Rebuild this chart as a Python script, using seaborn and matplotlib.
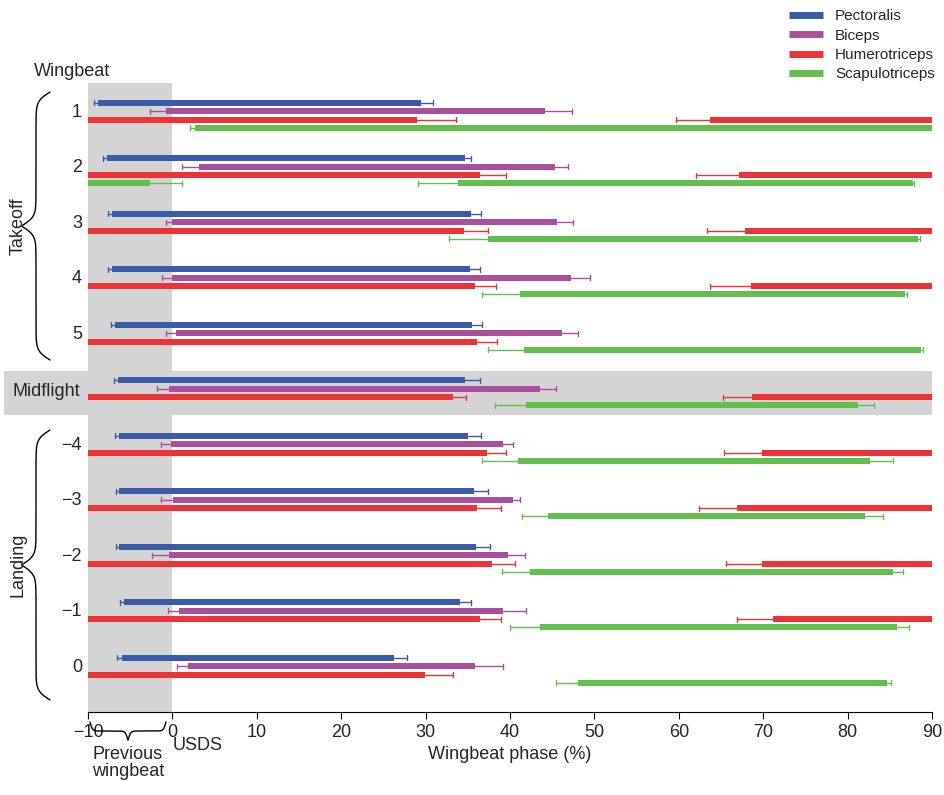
import numpy as np
import matplotlib
matplotlib.use("Agg")
import matplotlib.pyplot as plt
from matplotlib.patches import Rectangle
from matplotlib.lines import Line2D
import seaborn as sns

sns.set_style("white")
plt.rcParams['font.family'] = ['Liberation Sans', 'DejaVu Sans']

rows = ["1", "2", "3", "4", "5", "Midflight", "\u22124", "\u22123", "\u22122", "\u22121", "0"]
muscles = ["Pectoralis", "Biceps", "Humerotriceps", "Scapulotriceps"]
colors = ["#3a5ba8", "#a94f9e", "#ee3338", "#62bf4e"]

# main active segment per muscle: start, start error, end, end error (None = no error bar)
pect_s  = [-8.8, -7.8, -7.1, -7.1, -6.8, -6.4, -6.3, -6.3, -6.3, -5.7, -6.0]
pect_se = [-9.3, -8.2, -7.6, -7.6, -7.3, -6.9, -6.8, -6.7, -6.7, -6.2, -6.6]
pect_e  = [29.4, 34.7, 35.4, 35.3, 35.5, 34.7, 35.0, 35.7, 36.0, 34.1, 26.2]
pect_ee = [30.9, 35.4, 36.6, 36.4, 36.7, 36.4, 36.6, 37.4, 37.6, 35.4, 27.8]

bic_s  = [-0.7, 3.1, 0.0, -0.1, 0.4, -0.4, -0.2, 0.1, -0.4, 0.8, 1.9]
bic_se = [-2.6, 1.1, -0.8, -1.2, -0.7, -1.8, -1.4, -1.4, -2.4, -0.5, 0.6]
bic_e  = [44.1, 45.3, 45.6, 47.2, 46.2, 43.6, 39.2, 40.3, 39.8, 39.2, 35.8]
bic_ee = [47.4, 46.9, 47.5, 49.5, 48.1, 45.5, 40.3, 41.2, 41.8, 41.9, 39.2]

hum_s  = [-10] * 11
hum_se = [None] * 11
hum_e  = [29.0, 36.5, 34.5, 35.9, 36.1, 33.2, 37.3, 36.1, 37.9, 36.5, 29.9]
hum_ee = [33.6, 39.5, 37.4, 38.3, 38.5, 34.8, 39.5, 38.9, 40.6, 38.9, 33.2]

scap_s  = [2.7, 33.8, 37.4, 41.2, 41.7, 41.9, 40.9, 44.5, 42.4, 43.5, 48.1]
scap_se = [2.1, 29.1, 32.8, 36.7, 37.4, 38.2, 36.7, 41.4, 39.1, 40.0, 45.5]
scap_e  = [90, 87.7, 88.3, 86.8, 88.7, 81.2, 82.7, 82.1, 85.4, 85.9, 84.7]
scap_ee = [None, 87.9, 88.6, 87.0, 88.9, 83.1, 85.4, 84.2, 86.6, 87.3, 85.1]

# second humerotriceps burst (row index, start, start error), runs to 90
hum2_row = [0, 1, 2, 3, 5, 6, 7, 8, 9]
hum2_s   = [63.7, 67.1, 67.9, 68.6, 68.7, 69.9, 66.9, 69.9, 71.2]
hum2_se  = [59.7, 62.0, 63.3, 63.7, 65.2, 65.3, 62.4, 65.6, 66.9]

# early scapulotriceps burst in wingbeat 2
scap2_row, scap2_s, scap2_e, scap2_ee = [1], [-10], [-2.6], [1.1]

segs = [(pect_s, pect_se, pect_e, pect_ee), (bic_s, bic_se, bic_e, bic_ee),
        (hum_s, hum_se, hum_e, hum_ee), (scap_s, scap_se, scap_e, scap_ee)]

fig = plt.figure(figsize=(9.44, 7.95), dpi=100)
ax = fig.add_axes([88/944, 1-712/795, (932-88)/944, (712-83)/795])
ax.set_xlim(-10, 90)
ax.set_ylim(712, 83)

def ypos(r, k):
    return 103 + 55.5*r + 8.3*k

ax.add_patch(Rectangle((-10, 83), 10, 629, color="#d4d4d4", zorder=0, lw=0))
ax.add_patch(Rectangle((-19.9, 371), 109.9, 44, color="#d4d4d4", zorder=0, lw=0, clip_on=False))

H = 6
def errbar(y, x0, x1, c):
    ax.plot([x0, x1], [y, y], color=c, lw=1, zorder=2)
    ax.plot([x1, x1], [y-2.5, y+2.5], color=c, lw=1, zorder=2)

for k, (s, se, e, ee) in enumerate(segs):
    c = colors[k]
    for r in range(len(rows)):
        y = ypos(r, k)
        ax.barh(y, e[r]-s[r], left=s[r], height=H, color=c, zorder=3, linewidth=0)
        if se[r] is not None:
            errbar(y, s[r], se[r], c)
        if ee[r] is not None:
            errbar(y, e[r], ee[r], c)
for r, s, se in zip(hum2_row, hum2_s, hum2_se):
    y = ypos(r, 2)
    ax.barh(y, 90-s, left=s, height=H, color=colors[2], zorder=3, linewidth=0)
    errbar(y, s, se, colors[2])
for r, s, e, ee in zip(scap2_row, scap2_s, scap2_e, scap2_ee):
    y = ypos(r, 3)
    ax.barh(y, e-s, left=s, height=H, color=colors[3], zorder=3, linewidth=0)
    errbar(y, e, ee, colors[3])

for sp in ["top", "right", "left"]:
    ax.spines[sp].set_visible(False)
ax.spines["bottom"].set_color("black")
ax.set_yticks([])
ticks = list(range(-10, 91, 10))
ax.set_xticks(ticks)
ax.set_xticklabels([str(t).replace("-", "\u2212") for t in ticks], fontsize=13)
ax.tick_params(axis="x", direction="out", length=5, color="black", bottom=True)
ax.set_xlabel("Wingbeat phase (%)", fontsize=13, labelpad=4)

# overlay in pixel coordinates for annotations
ov = fig.add_axes([0, 0, 1, 1], facecolor="none")
ov.set_xlim(0, 944); ov.set_ylim(795, 0); ov.axis("off")

ov.text(72, 72, "Wingbeat", ha="center", va="center", fontsize=13)
for r, lab in enumerate(rows):
    yc = ypos(r, 1.5)
    if lab == "Midflight":
        ov.text(46, 392, lab, ha="center", va="center", fontsize=13)
    else:
        ov.text(82, yc - 3, lab, ha="right", va="center", fontsize=13)

def brace_pts(n=200, beta=60):
    half = np.linspace(0, 0.5, n)
    y = 1/(1+np.exp(-beta*(half-half[0]))) + 1/(1+np.exp(-beta*(half-half[-1])))
    y = np.concatenate([y, y[::-1]])
    t = np.linspace(0, 1, 2*n)
    y = (y - y.min())/(y.max()-y.min())
    return t, y

def vbrace(x_open, x_tip, y0, y1):
    t, d = brace_pts()
    ov.plot(x_open + (x_tip-x_open)*d, y0 + (y1-y0)*t, color="black", lw=1)

def hbrace(x0, x1, y_open, y_tip):
    t, d = brace_pts()
    ov.plot(x0 + (x1-x0)*t, y_open + (y_tip-y_open)*d, color="black", lw=1)

vbrace(50, 22, 92, 360)
vbrace(50, 22, 430, 700)
ov.text(18, 226, "Takeoff", rotation=90, ha="center", va="center", fontsize=13)
ov.text(18, 565, "Landing", rotation=90, ha="center", va="center", fontsize=13)
hbrace(90, 166, 722, 740)
ov.text(128, 763, "Previous\nwingbeat", ha="center", va="center", fontsize=13, linespacing=1.0)
ov.text(198, 746, "USDS", ha="center", va="center", fontsize=13)

handles = [Line2D([0], [0], color=c, lw=5, solid_capstyle="butt") for c in colors]
fig.legend(handles, muscles, loc="upper left", bbox_to_anchor=(780/944, 1.0),
           frameon=False, fontsize=11, handlelength=2.2, labelspacing=0.35, borderaxespad=0.2)

fig.savefig("out.png", dpi=100)
